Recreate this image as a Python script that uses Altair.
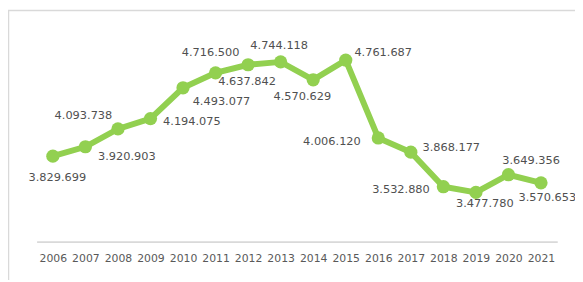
import altair as alt
import pandas as pd

# Data
years = ["2006", "2007", "2008", "2009", "2010", "2011", "2012", "2013",
         "2014", "2015", "2016", "2017", "2018", "2019", "2020", "2021"]
values = [3829699, 3920903, 4093738, 4194075, 4493077, 4637842, 4716500, 4744118,
          4570629, 4761687, 4006120, 3868177, 3532880, 3477780, 3649356, 3570653]

# Label placement offsets (pixels, relative to each point)
label_dx = [4.5, 42, -35, 42, 39, 32, -38, -1.5, -11, 38, -47, 41, -43, 9, 23, 6.5]
label_dy = [22, 10, -13, 4, 14, 9, -12, -16, 18, -7, 4, -4, 3, 12, -14, 15]

df = pd.DataFrame({"year": years, "value": values, "dx": label_dx, "dy": label_dy})
df["label"] = [f"{v:,}".replace(",", ".") for v in values]

GREEN = "#92D050"
GRAY = "#d9d9d9"
FONT = "DejaVu Sans"

xscale = alt.Scale(type="point", padding=0.5, range=[29, 557])
yscale = alt.Scale(domain=[3000000, 5000000], range=[235, 26], zero=False, nice=False)

base = alt.Chart(df).encode(
    x=alt.X("year:O", scale=xscale, sort=None,
            axis=alt.Axis(title=None, labelAngle=0, ticks=False, tickSize=0,
                          domainColor=GRAY, domainWidth=2, labelColor="#595959",
                          labelFont=FONT, labelFontSize=11, labelPadding=11, grid=False)),
    y=alt.Y("value:Q", scale=yscale, axis=None),
)

line = base.mark_line(color=GREEN, strokeWidth=6)
pts = base.mark_circle(color=GREEN, size=180, opacity=1)
text = base.mark_text(font=FONT, fontSize=11.5, color="#505050",
                      align="center", baseline="middle",
                      dx=alt.expr("datum.dx"), dy=alt.expr("datum.dy")).encode(text="label:N")

frame = alt.Data(values=[{}])
border_left = alt.Chart(frame).mark_rule(color=GRAY, strokeWidth=1.5).encode(
    x=alt.value(0.5), y=alt.value(0), y2=alt.value(274))
border_top = alt.Chart(frame).mark_rule(color=GRAY, strokeWidth=1.5).encode(
    x=alt.value(0), x2=alt.value(575), y=alt.value(0.5))

chart = alt.layer(border_left, border_top, line, pts, text).properties(
    width=575, height=235,
    autosize=alt.AutoSizeParams(type="none"),
    padding={"left": 0, "top": 0, "right": 0, "bottom": 39},
).configure_view(stroke=None)

chart.save("out.html", embed_options={"renderer": "svg", "actions": False})
